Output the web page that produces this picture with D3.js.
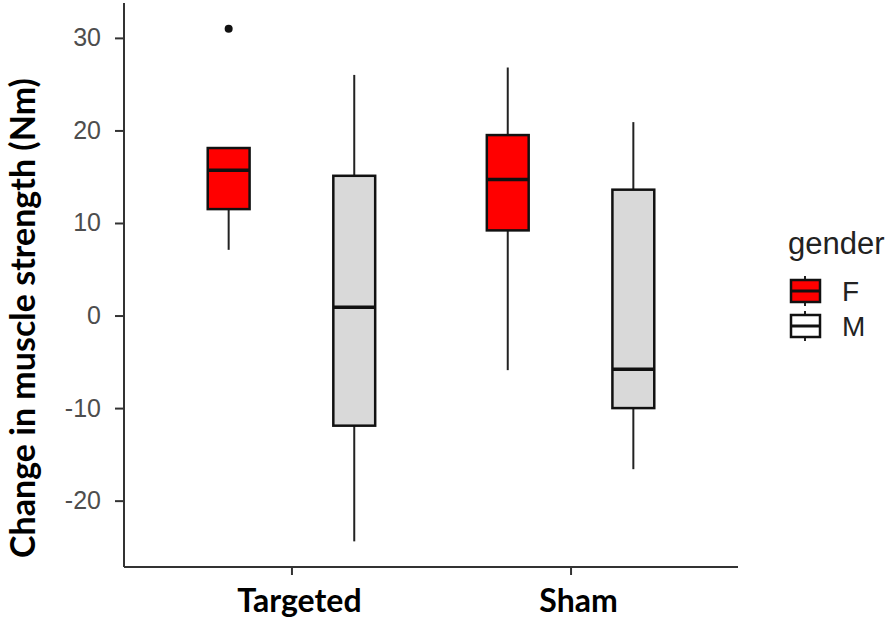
<!DOCTYPE html>
<html>
<head>
<meta charset="utf-8">
<title>Change in muscle strength</title>
<script src="https://cdn.jsdelivr.net/npm/d3@7"></script>
<style>
  body { margin: 0; background: #fff; }
  .axis path, .axis line { stroke: #333; stroke-width: 2px; }
  .ytick text { font: 25px "Liberation Sans", Arial, sans-serif; fill: #4d4d4d; }
  .xlab { font: bold 32px Lato, "Open Sans", sans-serif; fill: #000; }
  .ytitle { font: bold 34px Lato, "Open Sans", sans-serif; fill: #000; }
  .leg-title { font: 31px "Liberation Sans", Arial, sans-serif; fill: #222; }
  .leg-text { font: 28px "Liberation Sans", Arial, sans-serif; fill: #222; }
</style>
</head>
<body>
<script>
// data
var groups = ["Targeted", "Sham"];
var genders = ["F", "M"];
var fills = ["#ff0000", "#d9d9d9"];

// one entry per group x gender: Targeted-F, Targeted-M, Sham-F, Sham-M
var boxGroup  = ["Targeted", "Targeted", "Sham", "Sham"];
var boxGender = ["F", "M", "F", "M"];
var lowWhisk  = [7.1, -24.4, -5.9, -16.6];
var q1        = [11.5, -11.9, 9.2, -10.0];
var median    = [15.7, 0.9, 14.7, -5.8];
var q3        = [18.1, 15.1, 19.5, 13.6];
var highWhisk = [18.1, 26.0, 26.8, 20.9];
var outliers  = [[31.0], [], [], []];

var yTicks = [-20, -10, 0, 10, 20, 30];

var width = 893, height = 622;
var plotL = 124, plotR = 738, plotT = 3, plotB = 567;

var svg = d3.select("body").append("svg")
    .attr("width", width)
    .attr("height", height);

// y range with ggplot style 5% expansion
var allVals = lowWhisk.concat(highWhisk, d3.merge(outliers));
var lo = d3.min(allVals), hi = d3.max(allVals), pad = (hi - lo) * 0.05;
var y = d3.scaleLinear().domain([lo - pad, hi + pad]).range([plotB, plotT]);

var x = d3.scalePoint().domain(groups).range([plotL, plotR]).padding(0.6);
var step = x.step();
var xg = d3.scaleBand().domain(genders).range([-0.45 * step, 0.45 * step]);
var boxW = 0.15 * step;
var color = d3.scaleOrdinal().domain(genders).range(fills);

// axes
var yAxis = svg.append("g")
    .attr("class", "axis ytick")
    .attr("transform", "translate(" + plotL + ",0)")
    .call(d3.axisLeft(y).tickValues(yTicks).tickSize(9).tickPadding(14).tickFormat(function(d) { return String(d); }));
yAxis.select(".domain").attr("d", "M0," + plotT + "V" + plotB);

var xAxis = svg.append("g")
    .attr("class", "axis")
    .attr("transform", "translate(0," + plotB + ")")
    .call(d3.axisBottom(x).tickSize(8).tickFormat(""));
xAxis.select(".domain").attr("d", "M" + plotL + ",0H" + plotR);

svg.selectAll("text.xlab")
    .data(groups)
    .enter().append("text")
    .attr("class", "xlab")
    .attr("x", function(d) { return x(d) + 8; })
    .attr("y", 612)
    .attr("text-anchor", "middle")
    .text(function(d) { return d; });

svg.append("text")
    .attr("class", "ytitle")
    .attr("transform", "translate(35,318) rotate(-90)")
    .attr("text-anchor", "middle")
    .text("Change in muscle strength (Nm)");

// boxes
var idx = d3.range(boxGroup.length);
var box = svg.selectAll("g.box")
    .data(idx)
    .enter().append("g")
    .attr("class", "box")
    .attr("transform", function(i) {
      return "translate(" + (x(boxGroup[i]) + xg(boxGender[i]) + xg.bandwidth() / 2) + ",0)";
    });

box.append("line")
    .attr("y1", function(i) { return y(highWhisk[i]); })
    .attr("y2", function(i) { return y(q3[i]); })
    .attr("stroke", "#222").attr("stroke-width", 2);
box.append("line")
    .attr("y1", function(i) { return y(q1[i]); })
    .attr("y2", function(i) { return y(lowWhisk[i]); })
    .attr("stroke", "#222").attr("stroke-width", 2);

box.append("rect")
    .attr("x", -boxW / 2)
    .attr("width", boxW)
    .attr("y", function(i) { return y(q3[i]); })
    .attr("height", function(i) { return y(q1[i]) - y(q3[i]); })
    .attr("fill", function(i) { return color(boxGender[i]); })
    .attr("stroke", "#111").attr("stroke-width", 2.5);

box.append("line")
    .attr("x1", -boxW / 2).attr("x2", boxW / 2)
    .attr("y1", function(i) { return y(median[i]); })
    .attr("y2", function(i) { return y(median[i]); })
    .attr("stroke", "#111").attr("stroke-width", 3.5);

box.selectAll("circle")
    .data(function(i) { return outliers[i]; })
    .enter().append("circle")
    .attr("cy", function(d) { return y(d); })
    .attr("r", 4)
    .attr("fill", "#111");

// legend
var leg = svg.append("g").attr("transform", "translate(788,0)");
leg.append("text")
    .attr("class", "leg-title")
    .attr("x", 0).attr("y", 254)
    .text("gender");

var keyY = d3.scalePoint().domain(genders).range([291, 326]);
var key = leg.selectAll("g.key")
    .data(genders)
    .enter().append("g")
    .attr("class", "key")
    .attr("transform", function(d) { return "translate(0," + keyY(d) + ")"; });

key.append("line")
    .attr("x1", 17).attr("x2", 17).attr("y1", -15).attr("y2", 15)
    .attr("stroke", "#222").attr("stroke-width", 2);
key.append("rect")
    .attr("x", 3).attr("y", -11).attr("width", 29).attr("height", 22)
    .attr("fill", function(d) { return d === "F" ? color(d) : "#fff"; })
    .attr("stroke", "#111").attr("stroke-width", 2.5);
key.append("line")
    .attr("x1", 3).attr("x2", 32).attr("y1", 0).attr("y2", 0)
    .attr("stroke", "#111").attr("stroke-width", 3);
key.append("text")
    .attr("class", "leg-text")
    .attr("x", 54).attr("y", 0).attr("dy", "0.36em")
    .text(function(d) { return d; });
</script>
</body>
</html>
